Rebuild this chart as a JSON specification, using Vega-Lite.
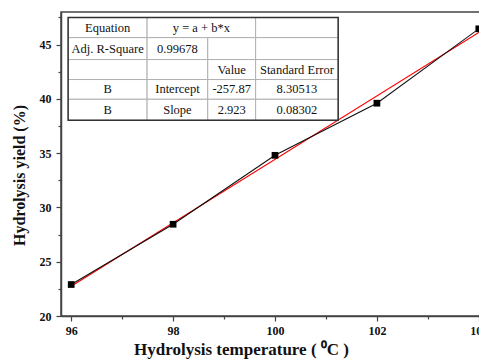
{
  "$schema": "https://vega.github.io/schema/vega-lite/v6.json",
  "autosize": {"type": "none"},
  "width": 428,
  "height": 304,
  "padding": {"left": 61, "top": 12, "right": 0, "bottom": 46},
  "background": "white",
  "config": {
    "view": {"stroke": "#444", "strokeWidth": 1.5},
    "font": "Liberation Serif",
    "axis": {
      "labelFont": "Liberation Serif",
      "titleFont": "Liberation Serif",
      "labelFontWeight": "bold",
      "titleFontWeight": "bold",
      "labelFontSize": 12,
      "titleFontSize": 16,
      "labelColor": "#111",
      "titleColor": "#111",
      "domainColor": "#444",
      "domainWidth": 1.5,
      "tickColor": "#444",
      "tickWidth": 1.2,
      "grid": false
    }
  },
  "datasets": {
    "yield": [
      {"temp": 96, "yield": 22.9},
      {"temp": 98, "yield": 28.45},
      {"temp": 100, "yield": 34.8},
      {"temp": 102, "yield": 39.6},
      {"temp": 104, "yield": 46.45}
    ],
    "fit": [
      {"temp": 96, "yield": 22.738},
      {"temp": 104, "yield": 46.122}
    ],
    "cells": [
      {"x0": 95.94, "x1": 97.49, "y0": 47.49, "y1": 45.64, "xm": 96.715, "ym": 46.57, "label": "Equation"},
      {"x0": 97.49, "x1": 99.62, "y0": 47.49, "y1": 45.64, "xm": 98.555, "ym": 46.57, "label": "y = a + b*x"},
      {"x0": 99.62, "x1": 101.24, "y0": 47.49, "y1": 45.64, "xm": 100.43, "ym": 46.57, "label": ""},
      {"x0": 95.94, "x1": 97.49, "y0": 45.64, "y1": 43.62, "xm": 96.715, "ym": 44.63, "label": "Adj. R-Square"},
      {"x0": 97.49, "x1": 98.68, "y0": 45.64, "y1": 43.62, "xm": 98.085, "ym": 44.63, "label": "0.99678"},
      {"x0": 98.68, "x1": 99.62, "y0": 45.64, "y1": 43.62, "xm": 99.15, "ym": 44.63, "label": ""},
      {"x0": 99.62, "x1": 101.24, "y0": 45.64, "y1": 43.62, "xm": 100.43, "ym": 44.63, "label": ""},
      {"x0": 95.94, "x1": 97.49, "y0": 43.62, "y1": 41.78, "xm": 96.715, "ym": 42.7, "label": ""},
      {"x0": 97.49, "x1": 98.68, "y0": 43.62, "y1": 41.78, "xm": 98.085, "ym": 42.7, "label": ""},
      {"x0": 98.68, "x1": 99.62, "y0": 43.62, "y1": 41.78, "xm": 99.15, "ym": 42.7, "label": "Value"},
      {"x0": 99.62, "x1": 101.24, "y0": 43.62, "y1": 41.78, "xm": 100.43, "ym": 42.7, "label": "Standard Error"},
      {"x0": 95.94, "x1": 97.49, "y0": 41.78, "y1": 39.96, "xm": 96.715, "ym": 40.87, "label": "B"},
      {"x0": 97.49, "x1": 98.68, "y0": 41.78, "y1": 39.96, "xm": 98.085, "ym": 40.87, "label": "Intercept"},
      {"x0": 98.68, "x1": 99.62, "y0": 41.78, "y1": 39.96, "xm": 99.15, "ym": 40.87, "label": "-257.87"},
      {"x0": 99.62, "x1": 101.24, "y0": 41.78, "y1": 39.96, "xm": 100.43, "ym": 40.87, "label": "8.30513"},
      {"x0": 95.94, "x1": 97.49, "y0": 39.96, "y1": 38.03, "xm": 96.715, "ym": 39.0, "label": "B"},
      {"x0": 97.49, "x1": 98.68, "y0": 39.96, "y1": 38.03, "xm": 98.085, "ym": 39.0, "label": "Slope"},
      {"x0": 98.68, "x1": 99.62, "y0": 39.96, "y1": 38.03, "xm": 99.15, "ym": 39.0, "label": "2.923"},
      {"x0": 99.62, "x1": 101.24, "y0": 39.96, "y1": 38.03, "xm": 100.43, "ym": 39.0, "label": "0.08302"}
    ]
  },
  "resolve": {"axis": {"x": "independent", "y": "independent"}},
  "layer": [
    {
      "mark": {"type": "rect", "color": "#e8f4fc", "clip": false},
      "encoding": {
        "x": {"datum": 94.6, "type": "quantitative", "scale": {"domain": [95.8, 104.2], "nice": false, "zero": false}, "axis": null},
        "x2": {"datum": 104.6},
        "y": {"datum": 49.1, "type": "quantitative", "scale": {"domain": [20, 48], "nice": false, "zero": false}, "axis": null},
        "y2": {"datum": 48.55}
      }
    },
    {
      "data": {"name": "fit"},
      "mark": {"type": "line", "color": "#ff0000", "strokeWidth": 1.2},
      "encoding": {
        "x": {"field": "temp", "type": "quantitative", "axis": null},
        "y": {"field": "yield", "type": "quantitative", "axis": null}
      }
    },
    {
      "data": {"name": "yield"},
      "mark": {"type": "line", "color": "#111", "strokeWidth": 1.1},
      "encoding": {
        "x": {"field": "temp", "type": "quantitative", "axis": null},
        "y": {"field": "yield", "type": "quantitative", "axis": null}
      }
    },
    {
      "data": {"name": "yield"},
      "mark": {"type": "point", "shape": "square", "filled": true, "color": "#000", "opacity": 1, "size": 45},
      "encoding": {
        "x": {
          "field": "temp", "type": "quantitative",
          "axis": {"orient": "bottom", "values": [96, 98, 100, 102, 104], "tickSize": 5, "labelPadding": 4, "title": "Hydrolysis temperature ( ⁰C )", "titleFontSize": 17, "titleX": 180, "titlePadding": 5}
        },
        "y": {
          "field": "yield", "type": "quantitative",
          "axis": {"orient": "left", "values": [20, 25, 30, 35, 40, 45], "tickSize": 5, "labelPadding": 5, "title": "Hydrolysis yield (%)", "titleY": 163, "titlePadding": 12}
        }
      }
    },
    {
      "data": {"name": "yield"},
      "mark": {"type": "point", "opacity": 0},
      "encoding": {
        "x": {
          "field": "temp", "type": "quantitative",
          "axis": {"orient": "bottom", "values": [97, 99, 101, 103], "tickSize": 3, "labels": false, "domain": false, "title": null}
        },
        "y": {
          "field": "yield", "type": "quantitative",
          "axis": {"orient": "left", "values": [22.5, 27.5, 32.5, 37.5, 42.5, 47.5], "tickSize": 3, "labels": false, "domain": false, "title": null}
        }
      }
    },
    {
      "data": {"name": "cells"},
      "mark": {"type": "rect", "fill": "white", "stroke": "#b0b0b0", "strokeWidth": 1},
      "encoding": {
        "x": {"field": "x0", "type": "quantitative", "axis": null},
        "x2": {"field": "x1"},
        "y": {"field": "y0", "type": "quantitative", "axis": null},
        "y2": {"field": "y1"}
      }
    },
    {
      "data": {"name": "cells"},
      "transform": [
        {"aggregate": [
          {"op": "min", "field": "x0", "as": "left"},
          {"op": "max", "field": "x1", "as": "right"},
          {"op": "max", "field": "y0", "as": "top"},
          {"op": "min", "field": "y1", "as": "bottom"}
        ]}
      ],
      "mark": {"type": "rect", "fill": null, "stroke": "#333", "strokeWidth": 1.5},
      "encoding": {
        "x": {"field": "left", "type": "quantitative", "axis": null},
        "x2": {"field": "right"},
        "y": {"field": "top", "type": "quantitative", "axis": null},
        "y2": {"field": "bottom"}
      }
    },
    {
      "data": {"name": "cells"},
      "mark": {"type": "text", "font": "Liberation Serif", "fontSize": 12.5, "color": "#111", "align": "center", "baseline": "middle"},
      "encoding": {
        "x": {"field": "xm", "type": "quantitative", "axis": null},
        "y": {"field": "ym", "type": "quantitative", "axis": null},
        "text": {"field": "label"}
      }
    }
  ]
}
